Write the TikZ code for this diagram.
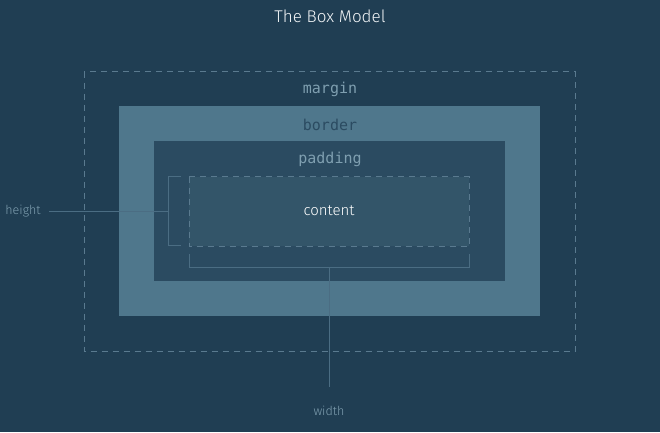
\documentclass[tikz,border=0pt]{standalone}
\usepackage{fontspec}
\setmainfont{Fira Sans}[UprightFont=* Light]
\setmonofont{DejaVu Sans Mono}
\definecolor{bg}{HTML}{203E53}
\definecolor{borderfill}{HTML}{4F778C}
\definecolor{padfill}{HTML}{2B4B61}
\definecolor{contfill}{HTML}{335569}
\definecolor{linec}{HTML}{4B6D83}
\definecolor{dashc}{HTML}{5A7A8F}
\definecolor{labc}{HTML}{7F9FB0}
\definecolor{bordtxt}{HTML}{2B4B61}
\definecolor{titlec}{HTML}{F2F5F7}
\begin{document}
\begin{tikzpicture}[x=1pt,y=-1pt,
  boxlabel/.style={font=\ttfamily\fontsize{15}{17}\selectfont,text=labc,inner sep=0pt},
  sidelabel/.style={font=\fontsize{12.5}{14}\selectfont,text=labc,inner sep=0pt},
  guide/.style={draw=linec,line width=1pt},
  dashbox/.style={draw=dashc,line width=0.8pt,dash pattern=on 6pt off 5pt}]
\fill[bg] (0,0) rectangle (660,432);
\useasboundingbox (0,0) rectangle (660,432);
% boxes
\draw[dashbox] (84,71.5) rectangle (575,351);
\fill[borderfill] (119,106) rectangle (540,316);
\fill[padfill] (154,141) rectangle (504.5,281);
\draw[dashbox,fill=contfill] (189,176.5) rectangle (469,246);
% texts
\node[font=\fontsize{17}{19}\selectfont,text=titlec,inner sep=0pt] (title) at (330,16) {The Box Model};
\node[boxlabel] (margin) at (330,89) {margin};
\node[boxlabel,text=bordtxt] (border) at (330,125) {border};
\node[boxlabel] (padding) at (330,159) {padding};
\node[font=\fontsize{15}{17}\selectfont,text=white,inner sep=0pt] (content) at (329,211) {content};
\node[sidelabel] (height) at (23,211) {height};
\node[sidelabel] (width) at (329,411) {width};
% height bracket
\coordinate (ht) at (181,176.5);
\coordinate (hb) at (181,245.5);
\coordinate (hm) at (168.5,211);
\coordinate (hend) at (49,211);
\draw[guide] (ht) -| (hm) |- (hb);
\draw[guide] (hend) -- (hm);
% width bracket
\coordinate (wl) at (189,254);
\coordinate (wr) at (469,254);
\coordinate (wm) at (329,267.5);
\coordinate (wend) at (329,387);
\draw[guide] (wl) |- (wm) -| (wr);
\draw[guide] (wm) -- (wend);
\end{tikzpicture}
\end{document}
